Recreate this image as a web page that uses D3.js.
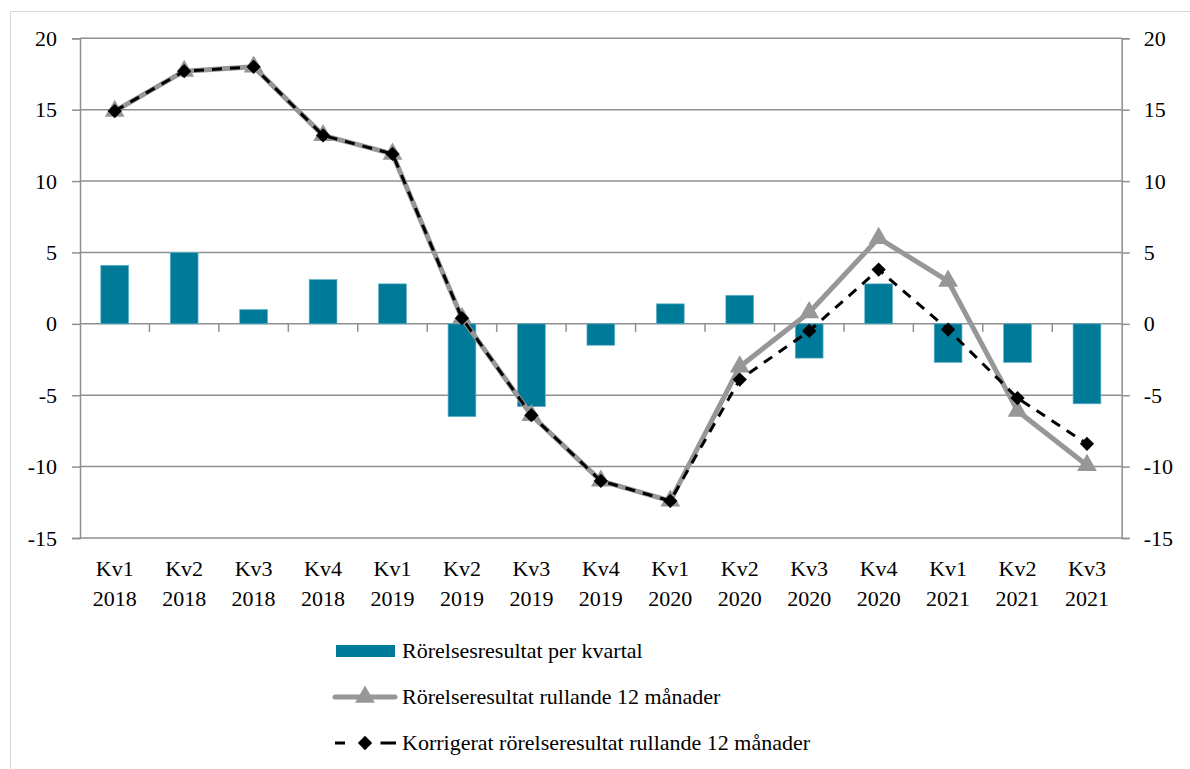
<!DOCTYPE html>
<html>
<head>
<meta charset="utf-8">
<script src="https://cdn.jsdelivr.net/npm/d3@7"></script>
<style>
  body { margin: 0; background: #fff; }
  svg text { font-family: "Liberation Serif", serif !important; fill: #000; }
</style>
</head>
<body>
<div id="wrapper"></div>
<script>
// data
const quarters = ["Kv1", "Kv2", "Kv3", "Kv4", "Kv1", "Kv2", "Kv3", "Kv4", "Kv1", "Kv2", "Kv3", "Kv4", "Kv1", "Kv2", "Kv3"]
const years = ["2018", "2018", "2018", "2018", "2019", "2019", "2019", "2019", "2020", "2020", "2020", "2020", "2021", "2021", "2021"]
const perKvartal = [4.1, 5.0, 1.0, 3.1, 2.8, -6.5, -5.8, -1.5, 1.4, 2.0, -2.4, 2.8, -2.7, -2.7, -5.6]
const rullande = [14.9, 17.7, 18.0, 13.2, 11.9, 0.4, -6.4, -11.0, -12.4, -3.0, 0.8, 6.0, 3.0, -6.1, -9.9]
const korrigerat = [14.9, 17.7, 18.0, 13.2, 11.9, 0.4, -6.4, -11.0, -12.4, -3.9, -0.5, 3.8, -0.4, -5.2, -8.4]
const yTicks = [-15, -10, -5, 0, 5, 10, 15, 20]
const legendLabels = [
  "Rörelsesresultat per kvartal",
  "Rörelseresultat rullande 12 månader",
  "Korrigerat rörelseresultat rullande 12 månader",
]

const categories = quarters.map((q, i) => q + " " + years[i])
const dataset = categories.map((c, i) => ({
  cat: c, q: quarters[i], year: years[i],
  bar: perKvartal[i], roll: rullande[i], corr: korrigerat[i],
}))

const dimensions = {
  width: 1190,
  height: 769,
  left: 80,
  right: 1121.7,
  top: 38.3,
  bottom: 538,
}

const barColor = "#007a99"
const gridColor = "#8f8f8f"
const rollColor = "#979797"
const fontFamily = '"Liberation Serif", serif'

const wrapper = d3.select("#wrapper")
  .append("svg")
    .attr("width", dimensions.width)
    .attr("height", dimensions.height)
    .attr("font-family", fontFamily)

// outer frame
wrapper.append("rect")
    .attr("x", 10.5)
    .attr("y", 11.5)
    .attr("width", 1300)
    .attr("height", 900)
    .attr("fill", "none")
    .attr("stroke", "#d9d9d9")

const xScale = d3.scaleBand()
  .domain(categories)
  .range([dimensions.left, dimensions.right])

const yScale = d3.scaleLinear()
  .domain([-15, 20])
  .range([dimensions.bottom, dimensions.top])

// gridlines
wrapper.append("g")
  .selectAll("line")
  .data(yTicks)
  .join("line")
    .attr("x1", dimensions.left)
    .attr("x2", dimensions.right)
    .attr("y1", d => yScale(d))
    .attr("y2", d => yScale(d))
    .attr("stroke", gridColor)
    .attr("stroke-width", 1.5)

const tickFormat = d => String(d)

// left axis
const yAxisLeft = wrapper.append("g")
    .attr("transform", `translate(${dimensions.left},0)`)
    .call(d3.axisLeft(yScale).tickValues(yTicks).tickFormat(tickFormat).tickSize(8).tickPadding(15))
    .attr("font-family", fontFamily)
yAxisLeft.select(".domain").attr("stroke", gridColor).attr("stroke-width", 1.5)
yAxisLeft.selectAll(".tick line").attr("stroke", gridColor).attr("stroke-width", 1.5)
yAxisLeft.selectAll("text").style("font-size", "22px").attr("fill", "#000")

// right axis
const yAxisRight = wrapper.append("g")
    .attr("transform", `translate(${dimensions.right},0)`)
    .call(d3.axisRight(yScale).tickValues(yTicks).tickFormat(tickFormat).tickSize(8).tickPadding(14))
    .attr("font-family", fontFamily)
yAxisRight.select(".domain").attr("stroke", gridColor).attr("stroke-width", 1.5)
yAxisRight.selectAll(".tick line").attr("stroke", gridColor).attr("stroke-width", 1.5)
yAxisRight.selectAll("text").style("font-size", "22px").attr("fill", "#000")

// category ticks on the zero line
wrapper.append("g")
  .selectAll("line")
  .data(categories.slice(1))
  .join("line")
    .attr("x1", d => xScale(d))
    .attr("x2", d => xScale(d))
    .attr("y1", yScale(0))
    .attr("y2", yScale(0) + 8)
    .attr("stroke", gridColor)
    .attr("stroke-width", 1.5)

// category labels
const catLabels = wrapper.append("g")
  .selectAll("text")
  .data(dataset)
  .join("text")
    .attr("x", d => xScale(d.cat) + xScale.bandwidth() / 2)
    .attr("text-anchor", "middle")
    .style("font-size", "22px")
catLabels.append("tspan")
    .attr("x", d => xScale(d.cat) + xScale.bandwidth() / 2)
    .attr("y", 576)
    .text(d => d.q)
catLabels.append("tspan")
    .attr("x", d => xScale(d.cat) + xScale.bandwidth() / 2)
    .attr("y", 606)
    .text(d => d.year)

// bars
const barWidth = xScale.bandwidth() * 0.4
wrapper.append("g")
  .selectAll("rect")
  .data(dataset)
  .join("rect")
    .attr("x", d => xScale(d.cat) + (xScale.bandwidth() - barWidth) / 2)
    .attr("y", d => yScale(Math.max(0, d.bar)))
    .attr("width", barWidth)
    .attr("height", d => Math.abs(yScale(d.bar) - yScale(0)))
    .attr("fill", barColor)
    .attr("stroke", "#5fb3c9")
    .attr("stroke-width", 0.7)

const xCenter = d => xScale(d.cat) + xScale.bandwidth() / 2

// rolling line
const rollLine = d3.line().x(xCenter).y(d => yScale(d.roll))
wrapper.append("path")
    .datum(dataset)
    .attr("d", rollLine)
    .attr("fill", "none")
    .attr("stroke", rollColor)
    .attr("stroke-width", 5)
    .attr("stroke-linejoin", "round")

const triangle = d3.symbol().type(d3.symbolTriangle).size(170)
wrapper.append("g")
  .selectAll("path")
  .data(dataset)
  .join("path")
    .attr("transform", d => `translate(${xCenter(d)},${yScale(d.roll)})`)
    .attr("d", triangle)
    .attr("fill", rollColor)

// corrected line
const corrLine = d3.line().x(xCenter).y(d => yScale(d.corr))
wrapper.append("path")
    .datum(dataset)
    .attr("d", corrLine)
    .attr("fill", "none")
    .attr("stroke", "#000")
    .attr("stroke-width", 3)
    .attr("stroke-dasharray", "10,8")

const diamond = d3.symbol().type(d3.symbolDiamond2).size(130)
wrapper.append("g")
  .selectAll("path")
  .data(dataset)
  .join("path")
    .attr("transform", d => `translate(${xCenter(d)},${yScale(d.corr)})`)
    .attr("d", diamond)
    .attr("fill", "#000")

// legend
const legend = wrapper.append("g")
const legendY = [651, 697, 743]
legend.append("rect")
    .attr("x", 336)
    .attr("y", legendY[0] - 6)
    .attr("width", 59)
    .attr("height", 12)
    .attr("fill", barColor)

legend.append("line")
    .attr("x1", 335).attr("x2", 395)
    .attr("y1", legendY[1]).attr("y2", legendY[1])
    .attr("stroke", rollColor)
    .attr("stroke-width", 5)
    .attr("stroke-linecap", "round")
legend.append("path")
    .attr("transform", `translate(365,${legendY[1]})`)
    .attr("d", triangle)
    .attr("fill", rollColor)

legend.append("line")
    .attr("x1", 335).attr("x2", 396)
    .attr("y1", legendY[2]).attr("y2", legendY[2])
    .attr("stroke", "#000")
    .attr("stroke-width", 3)
    .attr("stroke-dasharray", "10,15.5,10")
legend.append("path")
    .attr("transform", `translate(365,${legendY[2]})`)
    .attr("d", diamond)
    .attr("fill", "#000")

legend.selectAll("text.legend-label")
  .data(legendLabels)
  .join("text")
    .attr("class", "legend-label")
    .attr("x", 402)
    .attr("y", (d, i) => legendY[i] + 7)
    .style("font-size", "22px")
    .text(d => d)
</script>
</body>
</html>
